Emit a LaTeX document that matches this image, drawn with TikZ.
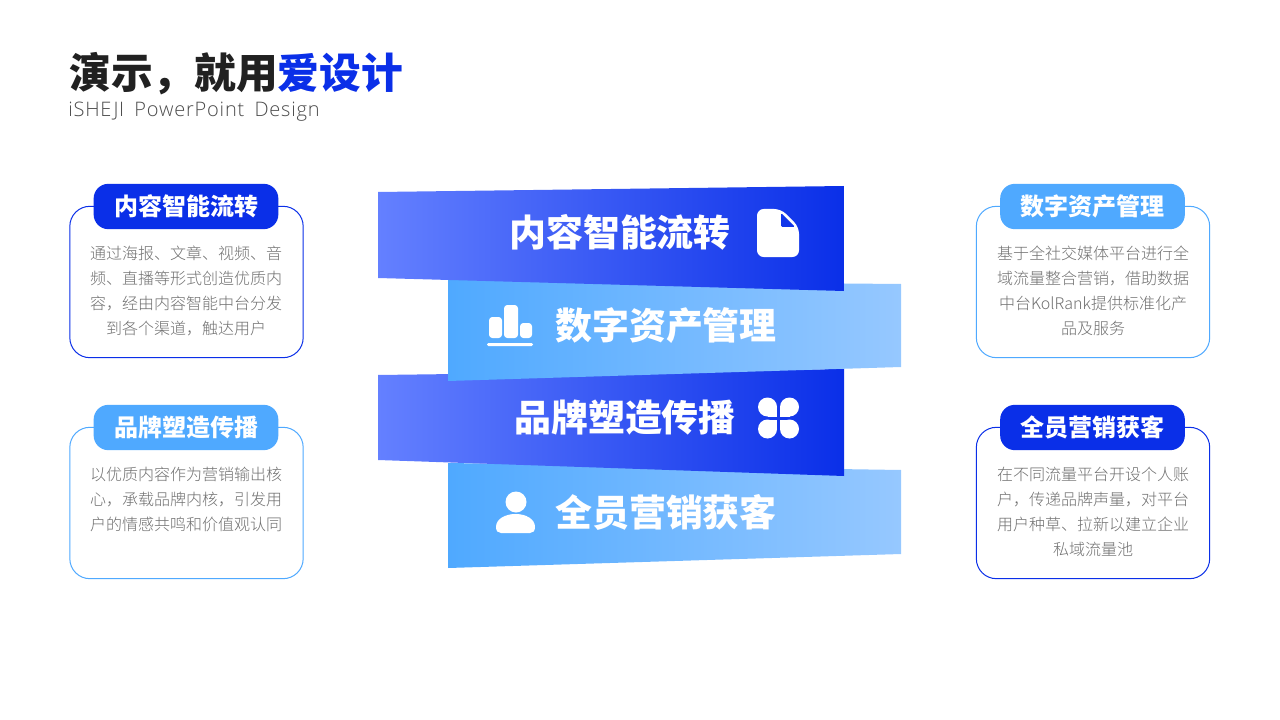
\documentclass[tikz,border=0pt]{standalone}
\usepackage{fontspec}
\usepackage{xcolor}
\usetikzlibrary{positioning}
\newfontfamily\cjkbold{Noto Sans CJK SC Bold}
\newfontfamily\cjklight{Noto Sans CJK SC Light}
\newfontfamily\cjkblack{Noto Sans CJK SC Black}
\newfontfamily\latinlight[LetterSpace=4,WordSpace=1.7]{Open Sans Light}
\definecolor{deepblue}{HTML}{0A2FE8}
\definecolor{midblue}{HTML}{4FA9FF}
\definecolor{paleblue}{HTML}{96C8FF}
\definecolor{softblue}{HTML}{6480FF}
\definecolor{bodygray}{HTML}{707070}
\tikzset{
	cardbox/.style = {draw=#1, line width=0.75pt, rounded corners=15pt, minimum width=175pt, minimum height=113.5pt, inner sep=0pt},
	cardtag/.style = {fill=#1, rounded corners=11pt, minimum width=138.5pt, minimum height=34pt, inner sep=0pt, text=white, font=\cjkblack\fontsize{18}{20}\selectfont},
	cardtext/.style = {anchor=north, align=center, inner sep=0pt, text=bodygray, font=\cjklight\fontsize{12}{18.75}\selectfont},
	bandtext/.style = {text=white, inner sep=0pt, font=\cjkblack\fontsize{27.7}{30}\selectfont},
	darkband/.style = {left color=softblue, middle color=softblue!75!deepblue, right color=deepblue},
	lightband/.style = {left color=midblue, middle color=midblue!60!paleblue, right color=paleblue}
}
\begin{document}
\begin{tikzpicture}[x=0.75pt, y=-0.75pt]
	\useasboundingbox [fill=white] (0,0) rectangle (1280,720);
	\node [anchor=west, inner sep=0pt, text=black!87, font=\cjkblack\fontsize{31.3}{34}\selectfont] (title) at (69,73.5) {演示，就用{\color{deepblue}爱设计}};
	\node [anchor=west, inner sep=0pt, text=black!70, font=\latinlight\fontsize{15}{18}\selectfont] (subtitle) at (68,112) {iSHEJI PowerPoint Design};
	% bands, lowest first
	\shade [lightband] (448,463) -- (901,470) -- (901,554) -- (448,568) -- cycle;
	\shade [darkband] (378,375) -- (844,369) -- (844,476) -- (378,460) -- cycle;
	\shade [lightband] (448,280) -- (901,284) -- (901,367) -- (448,381) -- cycle;
	\shade [darkband] (378,192) -- (844,186) -- (844,291) -- (378,278) -- cycle;
	\node [bandtext] (bandone) at (620,232) {内容智能流转};
	\node [bandtext] (bandtwo) at (666,326) {数字资产管理};
	\node [bandtext] (bandthree) at (625,418) {品牌塑造传播};
	\node [bandtext] (bandfour) at (666,512) {全员营销获客};
	% file icon
	\fill [white, rounded corners=5pt] (757,209) -- (781,209) -- (799,227) -- (799,257) -- (757,257) -- cycle;
	\fill [deepblue!92!softblue, rounded corners=1pt] (781,213) -- (781,227) -- (795,227) -- cycle;
	% bar icon
	\fill [white, rounded corners=2.5pt] (489,317) rectangle (502,338);
	\fill [white, rounded corners=2.5pt] (504,305) rectangle (518,338);
	\fill [white, rounded corners=2.5pt] (520,323) rectangle (532,338);
	\fill [white, rounded corners=1pt] (487,343) rectangle (533,346);
	% clover icon
	\foreach \sx/\sy in {-1/-1, 1/-1, -1/1, 1/1} {
		\fill [white] (778.5+\sx*11,418+\sy*11) circle [radius=9.5];
		\fill [white] (778.5+\sx*1.5,418+\sy*1.5) rectangle (778.5+\sx*11,418+\sy*11);
	}
	% person icon
	\fill [white] (516,502) circle [radius=10.5];
	\fill [white] (496,527) .. controls (496,519) and (505,514) .. (515.5,514) .. controls (526,514) and (535,519) .. (535,527) .. controls (535,531) and (533,533) .. (530,533) -- (501,533) .. controls (498,533) and (496,531) .. (496,527);
	% cards
	\node [cardbox=deepblue] (boxone) at (186.5,282) {};
	\node [cardbox=midblue] (boxtwo) at (186.5,503) {};
	\node [cardbox=midblue] (boxthree) at (1093,282) {};
	\node [cardbox=deepblue] (boxfour) at (1093,503) {};
	\node [cardtag=deepblue] (tagone) at (186,206.5) {内容智能流转};
	\node [cardtag=midblue] (tagtwo) at (186,427.5) {品牌塑造传播};
	\node [cardtag=midblue] (tagthree) at (1092.5,206.5) {数字资产管理};
	\node [cardtag=deepblue] (tagfour) at (1092.5,427.5) {全员营销获客};
	\node [cardtext] (textone) at (186,246) {通过海报、文章、视频、音\\频、直播等形式创造优质内\\容，经由内容智能中台分发\\到各个渠道，触达用户};
	\node [cardtext] (texttwo) at (186,467) {以优质内容作为营销输出核\\心，承载品牌内核，引发用\\户的情感共鸣和价值观认同};
	\node [cardtext] (textthree) at (1093,246) {基于全社交媒体平台进行全\\域流量整合营销，借助数据\\中台KolRank提供标准化产\\品及服务};
	\node [cardtext] (textfour) at (1093,467) {在不同流量平台开设个人账\\户，传递品牌声量，对平台\\用户种草、拉新以建立企业\\私域流量池};
\end{tikzpicture}
\end{document}
